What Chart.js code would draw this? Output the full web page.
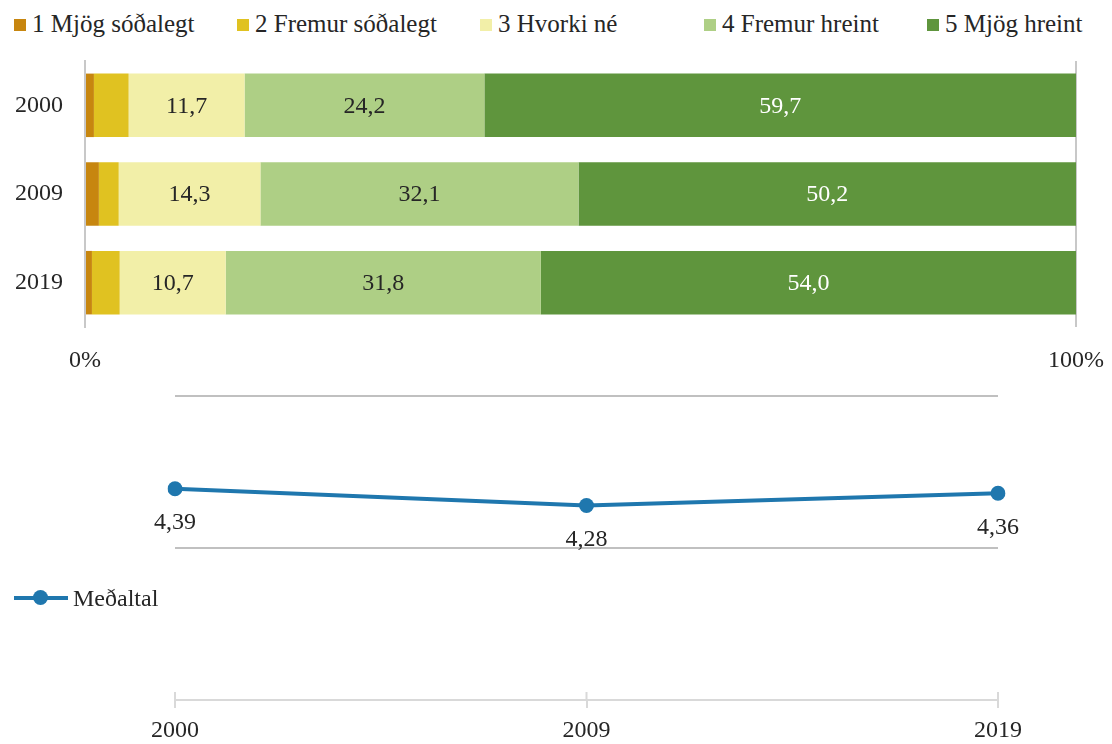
<!DOCTYPE html>
<html>
<head>
<meta charset="utf-8">
<script src="https://cdn.jsdelivr.net/npm/chart.js@4"></script>
<style>
body{margin:0;background:#fff;font-family:"Liberation Serif","Times New Roman",serif;color:#262626}
#wrap{position:relative;width:1112px;height:744px;overflow:hidden}
canvas{position:absolute;left:0}
#bars{top:40px}
#line{top:380px}
.item{position:absolute;font-size:24px;line-height:28px;white-space:nowrap}
.box{position:absolute;width:12px;height:12px}
#legendTop .item{top:10px;font-size:25px}
#legendTop .box{top:9px;left:-18px}
#legendLine{position:absolute;left:14px;top:584px;height:28px;width:160px}
#legendLine .bar{position:absolute;left:0;top:12px;width:54px;height:4px;background:#1F77AE}
#legendLine .dot{position:absolute;left:19px;top:6px;width:15px;height:15px;border-radius:50%;background:#1F77AE}
#legendLine .item{left:59px;top:0}
</style>
</head>
<body>
<div id="wrap">
  <div id="legendTop"></div>
  <canvas id="bars" width="1112" height="340"></canvas>
  <canvas id="line" width="1112" height="364"></canvas>
  <div id="legendLine"><div class="bar"></div><div class="dot"></div><div class="item" id="meanName"></div></div>
</div>
<script>
var YEARS = ["2000", "2009", "2019"]
var SERIES_NAMES = ["1 Mjög sóðalegt", "2 Fremur sóðalegt", "3 Hvorki né", "4 Fremur hreint", "5 Mjög hreint"]
var VERY_DIRTY = [0.9, 1.4, 0.7]
var FAIRLY_DIRTY = [3.5, 2.0, 2.8]
var NEITHER = [11.7, 14.3, 10.7]
var FAIRLY_CLEAN = [24.2, 32.1, 31.8]
var VERY_CLEAN = [59.7, 50.2, 54.0]
var PCT_TICKS = [0, 100]

var MEAN_NAME = "Meðaltal"
var MEAN = [4.39, 4.28, 4.36]

var COLORS = ["#C7860F", "#E0C221", "#F2EFA8", "#AECF85", "#5F953D"]
var LABEL_COLORS = ["#262626", "#262626", "#262626", "#262626", "#FFFFFF"]
var LEGEND_X = [32, 255, 498, 722, 945]
var TEXT = "#262626"
var FONT = {family: '"Liberation Serif", "Times New Roman", serif', size: 24}

function Comma(v, d){
    return v.toFixed(d).replace('.', ',')
}

// legend for the stacked bars
var lt = document.getElementById('legendTop')
SERIES_NAMES.forEach(function(name, i){
    var d = document.createElement('div')
    d.className = 'item'
    d.style.left = LEGEND_X[i] + 'px'
    d.innerHTML = '<span class="box" style="background:' + COLORS[i] + '"></span>' + name
    lt.appendChild(d)
})
document.getElementById('meanName').textContent = MEAN_NAME

var barLabels = {
    id: 'barLabels',
    afterDatasetsDraw: function(chart){
        var ctx = chart.ctx
        ctx.save()
        ctx.font = FONT.size + 'px ' + FONT.family
        ctx.textAlign = 'center'
        ctx.textBaseline = 'middle'
        chart.data.datasets.forEach(function(ds, i){
            chart.getDatasetMeta(i).data.forEach(function(el, j){
                if(ds.data[j] < 5) return
                ctx.fillStyle = LABEL_COLORS[i]
                ctx.fillText(Comma(ds.data[j], 1), (el.x + el.base) / 2, el.y + 1)
            })
        })
        ctx.restore()
    }
}

var lineLabels = {
    id: 'lineLabels',
    afterDatasetsDraw: function(chart){
        var ctx = chart.ctx
        ctx.save()
        ctx.font = FONT.size + 'px ' + FONT.family
        ctx.textAlign = 'center'
        ctx.textBaseline = 'middle'
        ctx.fillStyle = TEXT
        chart.getDatasetMeta(0).data.forEach(function(pt, j){
            ctx.fillText(Comma(MEAN[j], 2), pt.x, pt.y + 34)
        })
        // tick marks cross the axis line
        var x = chart.scales.x, b = chart.chartArea.bottom
        ctx.strokeStyle = '#D9D9D9'
        ctx.lineWidth = 2
        x.ticks.forEach(function(t, k){
            var px = x.getPixelForTick(k)
            ctx.beginPath()
            ctx.moveTo(px, b - 8)
            ctx.lineTo(px, b)
            ctx.stroke()
        })
        ctx.restore()
    }
}

var barData = [VERY_DIRTY, FAIRLY_DIRTY, NEITHER, FAIRLY_CLEAN, VERY_CLEAN]

new Chart(document.getElementById('bars'), {
    type: 'bar',
    data: {
        labels: YEARS,
        datasets: barData.map(function(d, i){
            return {
                label: SERIES_NAMES[i],
                data: d,
                backgroundColor: COLORS[i],
                borderWidth: 0,
                barPercentage: 0.716,
                categoryPercentage: 1
            }
        })
    },
    options: {
        indexAxis: 'y',
        responsive: false,
        animation: false,
        layout: {padding: {top: 21, right: 36, left: 0, bottom: 0}},
        plugins: {legend: {display: false}, tooltip: {enabled: false}},
        scales: {
            x: {
                stacked: true,
                min: 0,
                max: 100,
                afterBuildTicks: function(s){
                    s.ticks = PCT_TICKS.map(function(v){ return {value: v} })
                },
                ticks: {
                    font: FONT,
                    color: TEXT,
                    padding: 0,
                    maxRotation: 0,
                    callback: function(v){ return v + '%' }
                },
                grid: {color: '#C8C8C8', lineWidth: 2, drawTicks: true, tickLength: 19, tickColor: 'rgba(0,0,0,0)'},
                border: {display: false},
                afterFit: function(s){ s.height = 53 }
            },
            y: {
                stacked: true,
                ticks: {font: FONT, color: TEXT, padding: 0},
                grid: {display: false, drawTicks: true, tickLength: 22},
                border: {display: true, color: '#C8C8C8', width: 2},
                afterFit: function(s){ s.width = 85 }
            }
        }
    },
    plugins: [barLabels]
})

new Chart(document.getElementById('line'), {
    type: 'line',
    data: {
        labels: YEARS,
        datasets: [{
            label: MEAN_NAME,
            data: MEAN,
            borderColor: '#1F77AE',
            backgroundColor: '#1F77AE',
            borderWidth: 4,
            pointRadius: 7.5,
            pointBorderWidth: 0,
            tension: 0
        }]
    },
    options: {
        responsive: false,
        animation: false,
        layout: {padding: {top: 16, right: 114, left: 175, bottom: 0}},
        plugins: {legend: {display: false}, tooltip: {enabled: false}},
        scales: {
            x: {
                ticks: {font: FONT, color: TEXT, padding: 8, maxRotation: 0},
                grid: {drawOnChartArea: false, color: '#D9D9D9', lineWidth: 2, tickLength: 8},
                border: {color: '#D9D9D9', width: 2},
                afterFit: function(s){ s.height = 44 }
            },
            y: {
                min: 3,
                max: 5,
                ticks: {display: false, stepSize: 1},
                grid: {
                    drawTicks: false,
                    lineWidth: 2,
                    color: function(c){ return c.tick && c.tick.value === 3 ? 'rgba(0,0,0,0)' : '#C0C0C0' }
                },
                border: {display: false},
                afterFit: function(s){ s.width = 0 }
            }
        }
    },
    plugins: [lineLabels]
})
</script>
</body>
</html>
